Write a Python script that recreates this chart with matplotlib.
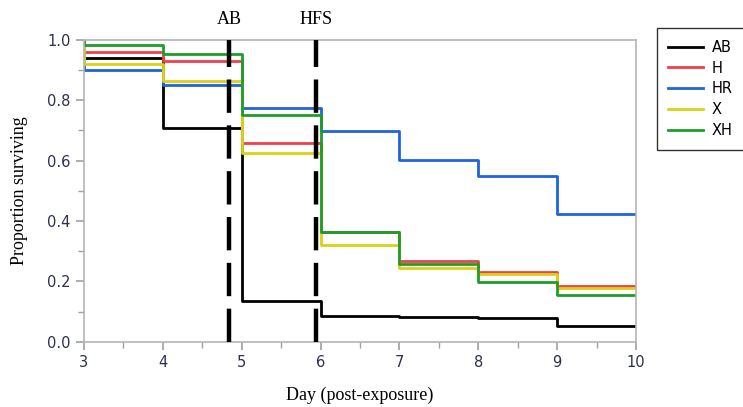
import matplotlib
matplotlib.use('Agg')
from matplotlib import pyplot as plt
from matplotlib.ticker import MultipleLocator
import matplotlib.transforms as mtransforms

plt.rcParams['lines.scale_dashes'] = False

# survival step data (value held from each day until the next)
days = [3, 3, 4, 5, 6, 7, 8, 9, 10]
ab = [1.0, 0.939, 0.708, 0.136, 0.087, 0.081, 0.079, 0.054, 0.054]
h = [1.0, 0.961, 0.929, 0.660, 0.365, 0.267, 0.230, 0.186, 0.186]
hr = [1.0, 0.900, 0.852, 0.774, 0.699, 0.601, 0.549, 0.424, 0.424]
x_grp = [1.0, 0.920, 0.863, 0.627, 0.320, 0.245, 0.226, 0.179, 0.179]
xh = [1.0, 0.983, 0.952, 0.751, 0.363, 0.258, 0.198, 0.155, 0.155]

series = [('AB', ab, '#000000'), ('H', h, '#f0404c'), ('HR', hr, '#1e64dc'),
          ('X', x_grp, '#dcd214'), ('XH', xh, '#1e9e28')]

events = [4.84, 5.94]
event_labels = ['AB', 'HFS']

fig = plt.figure(figsize=(7.43, 4.07), dpi=100)
ax = fig.add_axes([0.113, 0.160, 0.743, 0.742])

for name, vals, col in series:
    ax.step(days, vals, where='post', color=col, lw=2.0, label=name)

trans = mtransforms.blended_transform_factory(ax.transData, ax.transAxes)
for xe, lab in zip(events, event_labels):
    ax.axvline(xe, color='black', lw=3.2, dashes=(24, 9), zorder=5)
    ax.text(xe, 1.067, lab, transform=trans, ha='center', va='center',
            fontsize=13, family='Liberation Serif')

ax.set_xlim(3, 10)
ax.set_ylim(0, 1.0)
ax.xaxis.set_major_locator(MultipleLocator(1))
ax.xaxis.set_minor_locator(MultipleLocator(0.5))
ax.yaxis.set_major_locator(MultipleLocator(0.2))
ax.yaxis.set_minor_locator(MultipleLocator(0.1))
ax.yaxis.set_major_formatter(plt.FormatStrFormatter('%.1f'))

for s in ax.spines.values():
    s.set_color('#b4b4b4')
    s.set_linewidth(1.2)
ax.tick_params(which='major', length=6, width=1.2, color='#a0a0a0',
               labelsize=10.5, labelcolor='#2c3050')
ax.tick_params(which='minor', length=4, width=1.0, color='#a0a0a0')

ax.set_xlabel('Day (post-exposure)', family='Liberation Serif', fontsize=13, labelpad=12)
ax.set_ylabel('Proportion surviving', family='Liberation Serif', fontsize=13, labelpad=14)

leg = fig.legend(loc='upper left', bbox_to_anchor=(0.884, 0.931), frameon=True,
                 fancybox=False, edgecolor='black', fontsize=10.5, handlelength=2.4,
                 borderpad=0.8, labelspacing=0.4, handletextpad=0.55,
                 borderaxespad=0)
leg.get_frame().set_linewidth(1.0)
for line in leg.get_lines():
    line.set_linewidth(2.0)

fig.savefig('out.png', dpi=100)
